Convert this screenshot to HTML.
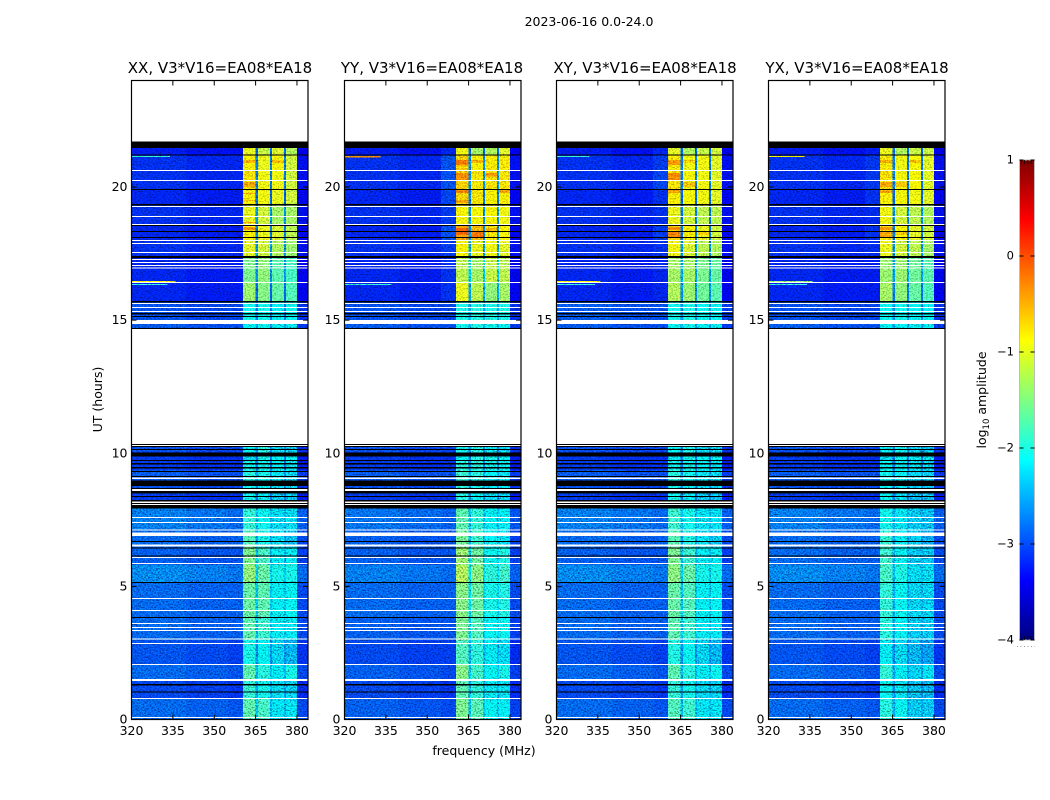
<!DOCTYPE html>
<html lang="en">
<head>
<meta charset="utf-8">
<title>2023-06-16 0.0-24.0</title>
<style>
html,body{margin:0;padding:0;background:#fff;width:1050px;height:800px;overflow:hidden}
svg{display:block;font-family:"DejaVu Sans","Liberation Sans",sans-serif;fill:#000}
</style>
</head>
<body>
<svg id="chart" xmlns="http://www.w3.org/2000/svg" width="1050" height="800" viewBox="0 0 1050 800">
  <defs>
    <filter id="speckle" filterUnits="userSpaceOnUse" x="120" y="70" width="840" height="660" color-interpolation-filters="sRGB">
      <feTurbulence type="fractalNoise" baseFrequency="0.6 0.7" numOctaves="2" seed="7" result="n"/>
      <feColorMatrix in="n" type="matrix" values="2.4 0 0 0 -0.7  2.4 0 0 0 -0.7  2.4 0 0 0 -0.7  0 0 0 0 1" result="g"/>
      <feComposite in="SourceGraphic" in2="g" operator="arithmetic" k1="0.85" k2="0.6" k3="0" k4="0" result="m"/>
      <feComposite in="m" in2="SourceAlpha" operator="in"/>
    </filter>
    <filter id="speckle-soft" filterUnits="userSpaceOnUse" x="120" y="70" width="840" height="660" color-interpolation-filters="sRGB">
      <feTurbulence type="fractalNoise" baseFrequency="0.6 0.7" numOctaves="2" seed="11" result="n"/>
      <feColorMatrix in="n" type="matrix" values="3 0 0 0 -1  3 0 0 0 -1  3 0 0 0 -1  0 0 0 0 1" result="g"/>
      <feComposite in="SourceGraphic" in2="g" operator="arithmetic" k1="0.5" k2="0.78" k3="0" k4="0" result="m"/>
      <feComposite in="m" in2="SourceAlpha" operator="in"/>
    </filter>
    <linearGradient id="jet-gradient" x1="0" y1="1" x2="0" y2="0"></linearGradient>
  </defs>
  <text x="589" y="26" font-size="12.5" text-anchor="middle" fill="#000">2023-06-16 0.0-24.0</text>

  <g id="panel-0">
    <text x="220" y="73" font-size="15" text-anchor="middle">XX, V3*V16=EA08*EA18</text>
  </g>
  <g id="panel-1">
    <text x="432" y="73" font-size="15" text-anchor="middle">YY, V3*V16=EA08*EA18</text>
  </g>
  <g id="panel-2">
    <text x="645" y="73" font-size="15" text-anchor="middle">XY, V3*V16=EA08*EA18</text>
  </g>
  <g id="panel-3">
    <text x="857" y="73" font-size="15" text-anchor="middle">YX, V3*V16=EA08*EA18</text>
  </g>

  <text transform="translate(102 399.5) rotate(-90)" font-size="12.5" text-anchor="middle">UT (hours)</text>
  <text x="484" y="755" font-size="12.5" text-anchor="middle">frequency (MHz)</text>

  <g id="colorbar"></g>
  <text transform="translate(986 400) rotate(-90)" font-size="12.5" text-anchor="middle">log<tspan font-size="8.5" dy="3">10</tspan><tspan dy="-3"> amplitude</tspan></text>
</svg>

<script>
// Frequency bin edges (MHz) and time-row edges (hours, descending)
const freqEdges = [320, 340, 355, 360.5, 365, 365.8, 370.2, 370.9, 375.3, 376, 380, 384];
const rowEdges = [21.46, 21.19, 20.60, 19.89, 19.31, 18.57, 17.97, 17.33, 16.39, 15.68, 15.00, 14.69, 10.23, 10.05, 9.75, 9.38, 9.00, 8.47, 7.94, 7.12, 6.48, 5.80, 5.16, 3.85, 2.99, 2.08, 1.48, 0.81, 0];

// Which level column each frequency bin reads: 0 bg, 1 shoulder, 2-5 bands, 6 gap
const binSeries = [0, 0, 1, 2, 6, 3, 6, 4, 6, 5, 0];
const binOffset = [0.05, 0, 0, 0, 0, 0, 0, 0, 0, 0, -0.1];
// Rows before this index are the bright, smooth upper block
const smoothRowCount = 10;

// log10 amplitude per time row: [bg, shoulder, band1, band2, band3, band4, gap]; null = no data
const xxLevels = [
  [-3.30,-3.30,-1.00,-1.20,-1.10,-1.30,-2.90],
  [-3.20,-3.20,-0.80,-1.00,-0.85,-1.15,-2.80],
  [-3.20,-3.20,-0.72,-0.95,-0.95,-1.15,-2.80],
  [-3.25,-3.25,-0.80,-0.95,-1.00,-1.15,-2.90],
  [-3.20,-3.20,-1.00,-1.15,-1.35,-1.35,-2.70],
  [-3.25,-3.25,-0.80,-1.00,-1.10,-1.25,-2.80],
  [-3.20,-3.20,-1.05,-1.15,-1.30,-1.40,-2.70],
  [-3.25,-3.25,-1.55,-1.45,-1.70,-1.80,-2.70],
  [-3.25,-3.25,-1.40,-1.50,-1.65,-1.75,-2.90],
  [-3.05,-3.05,-2.05,-2.05,-2.20,-2.10,-2.80],
  [-3.00,-3.00,-2.15,-2.10,-2.20,-2.20,-2.60],
  null,
  [-3.05,-3.05,-2.15,-1.95,-2.35,-2.45,-2.75],
  [-3.15,-3.15,-2.35,-2.05,-2.15,-2.15,-2.85],
  [-3.15,-3.15,-2.05,-2.05,-2.15,-2.25,-2.85],
  [-3.00,-3.00,-1.95,-2.05,-2.25,-2.35,-2.65],
  [-3.05,-3.05,-2.05,-2.15,-2.35,-2.35,-2.75],
  [-3.15,-3.15,-2.05,-2.25,-2.45,-2.45,-2.85],
  [-2.83,-2.88,-1.90,-2.08,-2.33,-2.33,-2.50],
  [-2.93,-2.93,-1.75,-2.03,-2.33,-2.48,-2.60],
  [-2.98,-2.98,-1.55,-1.80,-2.23,-2.23,-2.50],
  [-2.78,-2.83,-1.45,-1.65,-2.03,-2.03,-2.40],
  [-2.93,-2.93,-1.65,-1.70,-2.18,-2.13,-2.45],
  [-2.93,-2.93,-1.70,-1.85,-2.23,-2.23,-2.45],
  [-3.03,-3.08,-2.02,-2.15,-2.38,-2.53,-2.70],
  [-2.93,-2.98,-1.70,-1.95,-2.23,-2.03,-2.50],
  [-3.08,-3.13,-1.90,-2.05,-2.33,-2.38,-2.60],
  [-2.93,-2.98,-1.70,-1.80,-2.28,-2.28,-2.50]
];
const yyLevels = [
  [-3.30,-3.20,-0.95,-1.35,-1.30,-1.05,-2.90],
  [-3.20,-3.00,-0.60,-0.80,-0.75,-0.75,-2.70],
  [-3.20,-3.00,-0.60,-0.75,-0.70,-0.72,-2.70],
  [-3.25,-3.05,-0.62,-0.72,-0.80,-0.80,-2.80],
  [-3.20,-3.10,-0.85,-0.90,-0.85,-0.95,-2.70],
  [-3.25,-3.00,-0.40,-0.50,-0.75,-0.85,-2.70],
  [-3.20,-3.10,-0.85,-1.00,-0.95,-1.05,-2.60],
  [-3.25,-3.15,-1.25,-1.35,-1.20,-1.25,-2.40],
  [-3.25,-3.15,-1.00,-1.25,-1.45,-1.35,-2.60],
  [-3.05,-3.05,-2.00,-1.95,-2.00,-2.00,-2.60],
  [-3.00,-3.00,-2.05,-2.00,-2.05,-2.10,-2.50],
  null,
  [-3.05,-3.05,-2.05,-1.95,-2.25,-2.35,-2.75],
  [-3.15,-3.15,-2.15,-1.95,-2.05,-2.15,-2.75],
  [-3.15,-3.15,-1.95,-1.95,-2.05,-2.15,-2.75],
  [-3.00,-3.00,-1.85,-1.95,-2.15,-2.25,-2.55],
  [-3.05,-3.05,-1.95,-2.05,-2.25,-2.25,-2.65],
  [-3.15,-3.15,-1.95,-2.15,-2.35,-2.35,-2.75],
  [-2.88,-2.93,-1.70,-1.90,-2.18,-2.18,-2.50],
  [-2.98,-2.98,-1.58,-1.85,-2.18,-2.28,-2.50],
  [-2.98,-2.98,-1.40,-1.62,-2.08,-1.98,-2.40],
  [-2.83,-2.88,-1.30,-1.48,-1.93,-1.83,-2.30],
  [-2.93,-2.93,-1.50,-1.62,-2.03,-1.98,-2.35],
  [-2.98,-2.98,-1.55,-1.75,-2.13,-2.08,-2.40],
  [-3.08,-3.08,-1.75,-1.92,-2.23,-2.33,-2.55],
  [-2.98,-3.03,-1.50,-1.82,-2.13,-2.03,-2.45],
  [-3.08,-3.13,-1.70,-1.92,-2.23,-2.28,-2.55],
  [-2.98,-3.03,-1.55,-1.72,-2.13,-2.18,-2.45]
];
const xyLevels = [
  [-3.30,-3.20,-1.05,-1.30,-1.20,-1.15,-2.90],
  [-3.20,-3.10,-0.75,-0.95,-0.95,-1.05,-2.80],
  [-3.20,-3.05,-0.72,-0.90,-0.95,-1.05,-2.80],
  [-3.25,-3.15,-0.78,-0.90,-0.95,-1.05,-2.90],
  [-3.20,-3.15,-1.00,-1.15,-1.25,-1.25,-2.80],
  [-3.25,-3.10,-0.62,-0.78,-1.00,-1.15,-2.80],
  [-3.20,-3.15,-0.95,-1.10,-1.25,-1.30,-2.70],
  [-3.25,-3.20,-1.35,-1.35,-1.55,-1.65,-2.60],
  [-3.25,-3.20,-1.30,-1.40,-1.60,-1.70,-2.70],
  [-3.00,-3.00,-2.05,-2.00,-2.10,-2.10,-2.70],
  [-3.00,-3.00,-2.10,-2.05,-2.15,-2.15,-2.60],
  null,
  [-3.05,-3.05,-2.15,-2.00,-2.35,-2.40,-2.75],
  [-3.15,-3.15,-2.25,-2.05,-2.15,-2.20,-2.85],
  [-3.15,-3.15,-2.05,-2.05,-2.15,-2.25,-2.85],
  [-3.00,-3.00,-1.95,-2.05,-2.25,-2.35,-2.65],
  [-3.05,-3.05,-2.05,-2.15,-2.35,-2.35,-2.75],
  [-3.15,-3.15,-2.05,-2.25,-2.45,-2.45,-2.85],
  [-2.83,-2.88,-1.85,-2.03,-2.28,-2.28,-2.50],
  [-2.93,-2.93,-1.72,-1.98,-2.28,-2.43,-2.60],
  [-2.98,-2.98,-1.55,-1.85,-2.23,-2.23,-2.50],
  [-2.78,-2.83,-1.48,-1.65,-2.03,-2.03,-2.40],
  [-2.93,-2.93,-1.65,-1.75,-2.18,-2.13,-2.45],
  [-2.93,-2.93,-1.70,-1.85,-2.23,-2.23,-2.45],
  [-3.03,-3.08,-1.98,-2.10,-2.38,-2.53,-2.70],
  [-2.93,-2.98,-1.70,-1.95,-2.23,-2.08,-2.50],
  [-3.08,-3.13,-1.90,-2.05,-2.33,-2.38,-2.60],
  [-2.93,-2.98,-1.75,-1.85,-2.28,-2.28,-2.50]
];
const yxLevels = [
  [-3.30,-3.25,-1.00,-1.30,-1.20,-1.20,-2.90],
  [-3.20,-3.12,-0.75,-0.95,-0.88,-1.05,-2.80],
  [-3.20,-3.12,-0.68,-0.90,-0.88,-1.05,-2.80],
  [-3.25,-3.15,-0.78,-0.90,-0.95,-1.05,-2.90],
  [-3.20,-3.18,-0.95,-1.15,-1.25,-1.30,-2.70],
  [-3.25,-3.15,-0.70,-0.85,-1.05,-1.15,-2.80],
  [-3.20,-3.18,-1.00,-1.15,-1.25,-1.35,-2.70],
  [-3.25,-3.25,-1.40,-1.40,-1.60,-1.70,-2.60],
  [-3.25,-3.25,-1.35,-1.45,-1.65,-1.75,-2.80],
  [-3.05,-3.05,-2.10,-2.05,-2.15,-2.15,-2.70],
  [-3.00,-3.00,-2.15,-2.15,-2.20,-2.20,-2.60],
  null,
  [-3.05,-3.05,-2.20,-2.05,-2.40,-2.45,-2.75],
  [-3.15,-3.15,-2.35,-2.10,-2.20,-2.25,-2.85],
  [-3.15,-3.15,-2.15,-2.15,-2.25,-2.35,-2.85],
  [-3.00,-3.00,-2.05,-2.15,-2.35,-2.40,-2.65],
  [-3.05,-3.05,-2.10,-2.25,-2.40,-2.45,-2.75],
  [-3.15,-3.15,-2.15,-2.35,-2.50,-2.50,-2.85],
  [-2.83,-2.88,-2.05,-2.25,-2.43,-2.48,-2.55],
  [-2.93,-2.93,-1.90,-2.20,-2.43,-2.58,-2.65],
  [-2.93,-2.93,-1.85,-2.15,-2.43,-2.43,-2.55],
  [-2.78,-2.83,-1.80,-2.00,-2.33,-2.33,-2.50],
  [-2.93,-2.93,-1.90,-2.10,-2.38,-2.38,-2.55],
  [-2.93,-2.93,-1.95,-2.15,-2.43,-2.43,-2.55],
  [-3.03,-3.08,-2.20,-2.35,-2.53,-2.63,-2.75],
  [-2.93,-2.98,-1.90,-2.20,-2.38,-2.28,-2.60],
  [-3.08,-3.13,-2.10,-2.25,-2.48,-2.53,-2.70],
  [-2.93,-2.98,-1.95,-2.10,-2.43,-2.43,-2.60]
];
const panelLevels = [xxLevels, yyLevels, xyLevels, yxLevels];

// Time spans with no data (white) and spans at zero amplitude (black), hours
const blankTop = [10.31, 9.09, 8.66, 8.19, 8.09, 7.61, 7.42, 7.14, 7.02, 6.57, 6.10, 5.88, 4.56, 4.11, 3.62, 3.47, 3.36, 3.04, 2.87, 2.08, 1.52, 0.81, 0.09, 20.64, 20.26, 19.29, 18.91, 18.61, 18.01, 17.90, 17.56, 17.30, 17.18, 17.07, 16.98, 16.43, 15.64, 15.49, 15.34, 15.00];
const blankEnd = [10.27, 9.03, 8.58, 8.13, 8.06, 7.57, 7.38, 7.10, 6.89, 6.50, 6.07, 5.84, 4.53, 4.08, 3.59, 3.44, 3.32, 3.00, 2.84, 2.05, 1.45, 0.77, 0.06, 20.60, 20.23, 19.25, 18.87, 18.57, 17.97, 17.86, 17.52, 17.26, 17.15, 17.03, 16.94, 16.39, 15.60, 15.45, 15.31, 14.85];
const zeroTop = [21.71, 21.23, 19.92, 19.36, 18.57, 18.35, 18.12, 17.41, 15.72, 15.27, 15.16, 14.71, 10.35, 10.27, 10.16, 10.03, 9.75, 9.63, 9.48, 9.33, 9.15, 8.98, 8.69, 8.58, 8.39, 8.24, 8.13, 8.06, 6.70, 6.46, 6.16, 5.16, 3.85, 1.33, 1.05];
const zeroEnd = [21.46, 21.19, 19.89, 19.31, 18.53, 18.31, 18.08, 17.33, 15.66, 15.21, 15.12, 14.67, 10.31, 10.23, 10.12, 9.88, 9.71, 9.58, 9.43, 9.30, 9.11, 8.77, 8.66, 8.49, 8.36, 8.19, 8.11, 7.92, 6.67, 6.42, 6.12, 5.13, 3.81, 1.28, 1.01];

// Narrow interference features: panel index, time span, frequency span, log10 amplitude
const rfiPanel = [0,0,0,0,0,0,0,0,0,0,0, 1,1,1,1,1,1,1,1,1,1,1,1,1, 2,2,2,2,2,2,2,2,2,2,2, 3,3,3,3,3,3,3,3,3,3,3];
const rfiTop   = [21.16,16.47,16.36,21.01,20.19,19.77,19.51,18.69,18.50,21.01,20.64, 21.16,16.36,21.01,20.53,19.89,19.51,18.46,18.31,18.46,21.01,20.53,19.89,18.31, 21.16,16.47,16.36,21.01,20.53,19.89,18.50,18.31,21.01,20.19,18.31, 21.16,16.47,16.36,21.01,20.19,19.89,18.50,18.31,21.01,20.19,18.31];
const rfiEnd   = [21.13,16.43,16.32,20.90,20.00,19.73,19.47,18.65,18.38,20.90,20.60, 21.10,16.32,20.83,20.26,19.77,19.40,18.20,18.12,18.30,20.90,20.40,19.77,18.20, 21.13,16.43,16.32,20.83,20.26,19.77,18.38,18.12,20.90,20.00,18.20, 21.13,16.43,16.32,20.90,20.00,19.77,18.38,18.12,20.90,20.00,18.20];
const rfiStart = [320,320,320,360.5,360.5,360.5,360.5,360.5,360.5,370.9,370.9, 320,320,360.5,360.5,360.5,360.5,360.5,365.8,370.9,365.8,370.9,376,365.8, 320,320,320,360.5,360.5,360.5,360.5,360.5,365.8,365.8,370.9, 320,320,320,360.5,360.5,360.5,360.5,360.5,370.9,365.8,365.8];
const rfiStop  = [334,336,333,365,365,365,365,365,365,375.3,375.3, 333,337,365,365,365,365,365,370.2,375.3,370.2,375.3,380,370.2, 332,336,334,365,365,365,365,365,370.2,370.2,375.3, 333,336,334,365,365,365,365,365,375.3,370.2,370.2];
const rfiLevel = [-1.9,-0.9,-1.9,-0.45,-0.4,-0.4,-0.45,-0.4,-0.35,-0.5,-0.55, -0.3,-1.9,-0.2,-0.3,-0.25,-0.4,-0.1,-0.15,-0.5,-0.45,-0.35,-0.4,-0.2, -1.9,-0.9,-1.9,-0.35,-0.3,-0.4,-0.3,-0.25,-0.6,-0.55,-0.6, -0.8,-1.4,-1.9,-0.45,-0.4,-0.4,-0.35,-0.4,-0.55,-0.55,-0.55];

// Axis ticks
const freqTicks = [320, 335, 350, 365, 380];
const hourTicks = [0, 5, 10, 15, 20];
const colorTicks = [1, 0, -1, -2, -3, -4];

// Layout
const plotLeft = [131.5, 344.5, 556.5, 768.5];
const plotWidth = 176.5;
const plotTop = 80.5, plotBottom = 719.5;
const freqMin = 320, freqMax = 384, hourMin = 0, hourMax = 24;
const levelMin = -4, levelMax = 1;
const barLeft = 1019.5, barRight = 1034.5, barTop = 160, barBottom = 640;

const SVGNS = 'http://www.w3.org/2000/svg';
function xScale(f, p) { return plotLeft[p] + (f - freqMin) / (freqMax - freqMin) * plotWidth; }
function yScale(h) { return plotBottom - (h - hourMin) / (hourMax - hourMin) * (plotBottom - plotTop); }
function barScale(v) { return barBottom - (v - levelMin) / (levelMax - levelMin) * (barBottom - barTop); }

function jet(v) {
  const t = Math.max(0, Math.min(1, (v - levelMin) / (levelMax - levelMin)));
  const ch = function (c) { return Math.round(255 * Math.max(0, Math.min(1, 1.5 - Math.abs(4 * t - c)))); };
  return 'rgb(' + ch(3) + ',' + ch(2) + ',' + ch(1) + ')';
}
function make(tag, attrs, parent) {
  const el = document.createElementNS(SVGNS, tag);
  for (const k in attrs) el.setAttribute(k, attrs[k]);
  parent.appendChild(el);
  return el;
}

function drawSpan(group, p, top, end, color, name) {
  const el = make('rect', {
    x: plotLeft[p], width: plotWidth,
    y: yScale(top), height: Math.max(1, yScale(end) - yScale(top)),
    fill: color, 'shape-rendering': 'crispEdges'
  }, group);
  
  
}

function drawPanel(p) {
  const root = document.getElementById('panel-' + p);

  const bg = make('rect', { x: plotLeft[p], y: plotTop, width: plotWidth, height: plotBottom - plotTop, fill: '#fff' }, root);
  
  

  const cells = make('g', { filter: 'url(#speckle)', 'shape-rendering': 'crispEdges' }, root);
  
  

  const softCells = make('g', { filter: 'url(#speckle-soft)', 'shape-rendering': 'crispEdges' }, root);
  
  

  const levels = panelLevels[p];
  for (let r = 0; r < levels.length; r++) {
    if (!levels[r]) continue;
    for (let b = 0; b < binSeries.length; b++) {
      const series = binSeries[b];
      const isSmooth = r < smoothRowCount && series >= 2 && series <= 5;
      const value = levels[r][series] + binOffset[b];
      const cell = make('rect', {
        x: xScale(freqEdges[b], p), width: xScale(freqEdges[b + 1], p) - xScale(freqEdges[b], p),
        y: yScale(rowEdges[r]), height: yScale(rowEdges[r + 1]) - yScale(rowEdges[r]),
        fill: jet(value)
      }, isSmooth ? softCells : cells);
      
      
    }
  }
  for (let i = 0; i < rfiPanel.length; i++) {
    if (rfiPanel[i] !== p) continue;
    const rfi = make('rect', {
      x: xScale(rfiStart[i], p), width: xScale(rfiStop[i], p) - xScale(rfiStart[i], p),
      y: yScale(rfiTop[i]), height: yScale(rfiEnd[i]) - yScale(rfiTop[i]),
      fill: jet(rfiLevel[i])
    }, softCells);
    
    
  }

  for (let i = 0; i < blankTop.length; i++) drawSpan(root, p, blankTop[i], blankEnd[i], '#fff', 'no-data-row');
  for (let i = 0; i < zeroTop.length; i++) drawSpan(root, p, zeroTop[i], zeroEnd[i], '#000', 'zero-amplitude-row');

  const frame = make('rect', { x: plotLeft[p], y: plotTop, width: plotWidth, height: plotBottom - plotTop, fill: 'none', stroke: '#000', 'stroke-width': 1.2 }, root);
  
  

  freqTicks.forEach(function (f) {
    const x = xScale(f, p);
    const tb = make('line', { x1: x, x2: x, y1: plotBottom, y2: plotBottom - 5, stroke: '#000' }, root);
    
    
    const tt = make('line', { x1: x, x2: x, y1: plotTop, y2: plotTop + 5, stroke: '#000' }, root);
    
    
    const lab = make('text', { x: x, y: 735, 'font-size': 12.5, 'text-anchor': 'middle' }, root);
    
    
    lab.textContent = String(f);
  });
  hourTicks.forEach(function (h) {
    const y = yScale(h);
    const tl = make('line', { x1: plotLeft[p], x2: plotLeft[p] + 5, y1: y, y2: y, stroke: '#000' }, root);
    
    
    const tr = make('line', { x1: plotLeft[p] + plotWidth, x2: plotLeft[p] + plotWidth - 5, y1: y, y2: y, stroke: '#000' }, root);
    
    
    const lab = make('text', { x: plotLeft[p] - 4, y: y + 4, 'font-size': 12.5, 'text-anchor': 'end' }, root);
    
    
    lab.textContent = String(h);
  });
}

function drawColorbar() {
  const root = document.getElementById('colorbar');
  const grad = document.getElementById('jet-gradient');
  for (let i = 0; i <= 32; i++) {
    make('stop', { offset: i / 32, 'stop-color': jet(levelMin + (levelMax - levelMin) * i / 32) }, grad);
  }
  const bar = make('rect', { x: barLeft, y: barTop, width: barRight - barLeft, height: barBottom - barTop, fill: 'url(#jet-gradient)', stroke: '#bdbdbd', 'stroke-width': 1 }, root);
  
  

  colorTicks.forEach(function (v) {
    const y = barScale(v);
    const tl = make('line', { x1: barLeft, x2: barLeft + 4, y1: y, y2: y, stroke: '#000' }, root);
    
    
    const tr = make('line', { x1: barRight, x2: barRight - 4, y1: y, y2: y, stroke: '#000' }, root);
    
    
    const lab = make('text', { x: 1014, y: y + 3.5, 'font-size': 11.5, 'text-anchor': 'end' }, root);
    
    
    lab.textContent = v < 0 ? '\u2212' + Math.abs(v) : String(v);
  });

  [barScale(levelMax), barScale(levelMin)].forEach(function (y, idx) {
    const dir = idx === 0 ? 1 : -1;
    for (let x = barLeft + 2; x < barRight - 1; x += 3.2) {
      const m = make('line', { x1: x, x2: x, y1: y, y2: y + dir * 4, stroke: '#000', 'stroke-width': 0.8 }, root);
      
      
    }
  });

  const dots = make('line', { x1: 1017, x2: 1035, y1: 646.5, y2: 646.5, stroke: '#999', 'stroke-width': 1, 'stroke-dasharray': '1 2.5' }, root);
  
  
}

for (let p = 0; p < panelLevels.length; p++) drawPanel(p);
drawColorbar();
</script>
</body>
</html>
